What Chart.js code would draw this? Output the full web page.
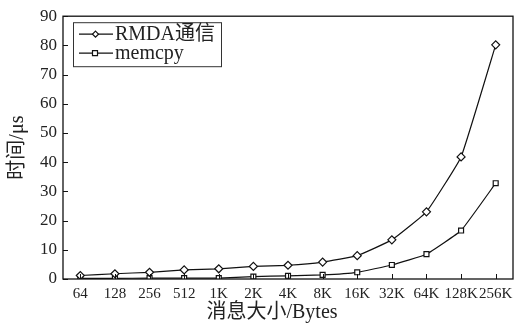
<!DOCTYPE html>
<html>
<head>
<meta charset="utf-8">
<script src="https://cdn.jsdelivr.net/npm/chart.js@4"></script>
<style>
  html, body { margin: 0; padding: 0; background: #fff; }
  #wrap { width: 523px; height: 323px; }
</style>
</head>
<body>
<div id="wrap"><canvas id="grafico" width="523" height="323"></canvas></div>
<script>
const tamanhos = ["64", "128", "256", "512", "1K", "2K", "4K", "8K", "16K", "32K", "64K", "128K", "256K"];
const tempoRmda = [1.2, 1.8, 2.3, 3.1, 3.5, 4.3, 4.7, 5.8, 8.0, 13.4, 23.0, 41.8, 80.2];
const tempoMemcpy = [0.2, 0.2, 0.3, 0.3, 0.3, 0.8, 1.1, 1.4, 2.3, 4.8, 8.5, 16.6, 32.8];
const rotulos = ["RMDA通信", "memcpy"];
const tituloX = '消息大小/Bytes';

const fonteSerif = "'Liberation Serif', 'DejaVu Serif', 'Noto Sans CJK SC', serif";
const corTexto = '#222';

// moldura, marcas internas, legenda e título do eixo x desenhados à mão
const molduraPlugin = {
  id: 'moldura',
  afterDraw(chart) {
    const { ctx, chartArea: a, scales } = chart;
    ctx.save();
    ctx.strokeStyle = '#111';
    ctx.lineWidth = 1.3;
    ctx.strokeRect(a.left, a.top, a.right - a.left, a.bottom - a.top);

    ctx.lineWidth = 1;
    ctx.beginPath();
    scales.y.ticks.forEach((t, i) => {
      const y = Math.round(scales.y.getPixelForTick(i)) + 0.5;
      ctx.moveTo(a.left, y);
      ctx.lineTo(a.left + 5, y);
    });
    scales.x.ticks.forEach((t, i) => {
      const x = Math.round(scales.x.getPixelForTick(i)) + 0.5;
      ctx.moveTo(x, a.bottom);
      ctx.lineTo(x, a.bottom - 5);
    });
    ctx.stroke();

    // título do eixo x (um pouco à esquerda do centro, como no original)
    ctx.fillStyle = corTexto;
    ctx.font = "20px " + fonteSerif;
    ctx.textAlign = 'center';
    ctx.textBaseline = 'middle';
    ctx.fillText(tituloX, (a.left + a.right) / 2 - 16, a.bottom + 34);
    ctx.textAlign = 'left';

    // legenda
    const lx = a.left + 10, ly = a.top + 6, lw = 148, lh = 44;
    ctx.fillStyle = '#fff';
    ctx.fillRect(lx, ly, lw, lh);
    ctx.strokeStyle = '#333';
    ctx.lineWidth = 1;
    ctx.strokeRect(lx + 0.5, ly + 0.5, lw, lh);
    chart.data.datasets.forEach((ds, i) => {
      const yy = ly + 12 + i * 19;
      ctx.strokeStyle = '#111';
      ctx.lineWidth = 1.2;
      ctx.beginPath();
      ctx.moveTo(lx + 6, yy);
      ctx.lineTo(lx + 40, yy);
      ctx.stroke();
      ctx.fillStyle = '#fff';
      ctx.beginPath();
      if (ds.pointStyle === 'rectRot') {
        ctx.moveTo(lx + 22.5, yy - 3);
        ctx.lineTo(lx + 25.5, yy);
        ctx.lineTo(lx + 22.5, yy + 3);
        ctx.lineTo(lx + 19.5, yy);
        ctx.closePath();
      } else {
        ctx.rect(lx + 19.5, yy - 2.5, 5, 5);
      }
      ctx.fill();
      ctx.stroke();
      ctx.fillStyle = corTexto;
      ctx.font = "20px " + fonteSerif;
      ctx.textBaseline = 'middle';
      ctx.fillText(ds.label, lx + 42, yy + 1);
    });
    ctx.restore();
  }
};

new Chart(document.getElementById('grafico').getContext('2d'), {
  type: 'line',
  data: {
    labels: tamanhos,
    datasets: [
      {
        label: rotulos[0],
        data: tempoRmda,
        borderColor: '#111',
        backgroundColor: '#fff',
        borderWidth: 1.2,
        pointStyle: 'rectRot',
        pointRadius: 4,
        pointBorderWidth: 1.2,
        tension: 0.1
      },
      {
        label: rotulos[1],
        data: tempoMemcpy,
        borderColor: '#111',
        backgroundColor: '#fff',
        borderWidth: 1.2,
        pointStyle: 'rect',
        pointRadius: 3.5,
        pointBorderWidth: 1.2,
        tension: 0.1
      }
    ]
  },
  options: {
    responsive: false,
    animation: false,
    devicePixelRatio: 1,
    layout: { padding: { top: 16, right: 10, left: 0, bottom: 0 } },
    plugins: { legend: { display: false }, tooltip: { enabled: false } },
    scales: {
      x: {
        offset: true,
        grid: { display: false, drawTicks: false },
        border: { display: false },
        ticks: { color: corTexto, font: { family: fonteSerif, size: 15 }, padding: 6, maxRotation: 0, autoSkip: false },
        title: { display: false },
        afterFit(s) { s.height = 44; }
      },
      y: {
        min: 0,
        max: 90,
        ticks: { stepSize: 10, color: corTexto, font: { family: fonteSerif, size: 17 }, padding: 6 },
        grid: { display: false, drawTicks: false },
        border: { display: false },
        title: { display: true, text: '时间/μs', color: corTexto, font: { family: fonteSerif, size: 20 }, padding: { top: 6, bottom: 0 } },
        afterFit(s) { s.width = 63; }
      }
    }
  },
  plugins: [molduraPlugin]
});
</script>
</body>
</html>
